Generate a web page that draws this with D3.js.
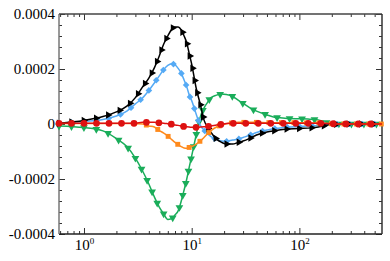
<!DOCTYPE html>
<html>
<head>
<meta charset="utf-8">
<script src="https://cdn.jsdelivr.net/npm/d3@7"></script>
<style>
  body { margin: 0; background: #fff; }
  svg { display: block; }
  text { font-family: "Liberation Serif", "Times New Roman", serif; fill: #000; }
</style>
</head>
<body>
<script>
var width = 390,
    height = 261;

// x positions of the samples (log axis)
var xVals = [0.586, 1, 1.5, 2, 2.5, 3, 3.5, 4, 4.5, 5, 5.5, 6, 6.5, 7, 7.5, 8, 8.5, 9, 9.5, 10,
  11, 12, 13, 14, 15, 17, 19, 21, 24, 27, 30, 35, 40, 50, 60, 70, 80, 100, 120, 150, 200, 300, 400, 585];

// series values, in units of 1e-5
var UNIT = 1e-5;
var black = [0.3, 1.3, 2.7, 4.4, 6.5, 9.6, 13.5, 16.7, 20.4, 24.7, 29.1, 32, 34.4, 35.3, 35.3, 34.2, 32, 29.5, 25.5, 21.8,
  13.1, 7.3, 1.5, -1.1, -2.9, -5.5, -6.7, -7.3, -7.3, -6.7, -6.2, -5.1, -4.0, -2.9, -2.4, -2.0, -1.8, -1.6, -1.5, -1.1, -0.1, 0, 0, 0];
var blue = [0.2, 0.9, 1.6, 2.9, 4.7, 7.3, 9.5, 12.2, 14.9, 17.5, 19.8, 21.3, 21.9, 21.5, 20.2, 18.5, 16, 13.5, 10.5, 8.5,
  3.6, -0.4, -2.2, -3.5, -4.5, -5.6, -6.2, -6.3, -5.8, -5.5, -4.9, -4.0, -3.1, -2.2, -1.6, -1.3, -1.1, -0.9, -0.7, -0.5, -0.1, 0, 0, 0];
var green = [-0.7, -1.3, -2.5, -5.3, -8.2, -12.4, -17.1, -21.8, -26.5, -30.2, -32.7, -34.7, -34.4, -33.1, -31.5, -28, -24, -20, -15.6, -11.6,
  -4, 2.5, 5.8, 7.8, 9.5, 10.5, 10.9, 10.7, 10, 8.7, 7.5, 5.8, 4.7, 3.3, 2.4, 2.2, 2, 1.9, 1.8, 1.5, 0.1, 0, 0, 0];
var orange = [0.2, 0.2, 0.2, 0.2, 0.2, 0.1, 0, -0.7, -1.1, -2.4, -3.3, -4.4, -5.6, -6.7, -7.5, -8.2, -8.7, -8.8, -8.5, -8.2,
  -7.3, -6.2, -4.9, -3.6, -2.5, -1.1, -0.4, 0.1, 0.4, 0.6, 0.6, 0.6, 0.6, 0.5, 0.5, 0.5, 0.5, 0.5, 0.4, 0.4, 0.1, 0, 0, 0];
var red = [0.25, 0.25, 0.25, 0.25, 0.25, 0.25, 0.6, 0.6, 0.6, 0.4, 0.3, 0.1, -0.1, -0.4, -0.5, -0.7, -0.9, -1, -1.1, -1.2,
  -1.2, -1.1, -1.0, -0.9, -0.7, -0.4, -0.1, 0.15, 0.25, 0.25, 0.25, 0.25, 0.25, 0.25, 0.25, 0.25, 0.25, 0.25, 0.25, 0.25, 0.1, 0, 0, 0];

var xMajor = [1, 10, 100];
var xMajorExp = ["0", "1", "2"];
var xMinor = [0.6, 0.7, 0.8, 0.9, 2, 3, 4, 5, 6, 7, 8, 9, 20, 30, 40, 50, 60, 70, 80, 90, 200, 300, 400, 500];
var yMajor = [0.0004, 0.0002, 0, -0.0002, -0.0004];
var yMajorLabels = ["0.0004", "0.0002", "0", "-0.0002", "-0.0004"];
var yMinor = d3.range(-10, 11).filter(function(i){ return i % 5 !== 0; }).map(function(i){ return i * 4e-5; });

var margin = {top: 14, right: 8, bottom: 27, left: 59};
var x0 = margin.left, x1 = width - margin.right,
    y0 = margin.top, y1 = height - margin.bottom;

var svg = d3.select("body").append("svg").attr("width", width).attr("height", height);

var x = d3.scaleLog().domain([0.586, 585]).range([x0, x1]);
var y = d3.scaleLinear().domain([-0.0004, 0.0004]).range([y1, y0]);

svg.append("clipPath").attr("id", "clip")
  .append("rect").attr("x", x0).attr("y", y0).attr("width", x1 - x0).attr("height", y1 - y0);

// ticks (inward, all four sides)
var axisColor = "#333";
function ticks(axis, tx, ty) {
  var g = svg.append("g").attr("transform", "translate(" + tx + "," + ty + ")").call(axis);
  g.select(".domain").remove();
  g.selectAll(".tick line").attr("stroke", axisColor);
  return g;
}
ticks(d3.axisBottom(x).tickValues(xMinor).tickSize(-3).tickFormat(""), 0, y1);
ticks(d3.axisTop(x).tickValues(xMinor).tickSize(-3).tickFormat(""), 0, y0);
ticks(d3.axisTop(x).tickValues(xMajor).tickSize(-6).tickFormat(""), 0, y0);
ticks(d3.axisLeft(y).tickValues(yMinor).tickSize(-3).tickFormat(""), x0, 0);
ticks(d3.axisRight(y).tickValues(yMinor).tickSize(-3).tickFormat(""), x1, 0);
ticks(d3.axisRight(y).tickValues(yMajor).tickSize(-6).tickFormat(""), x1, 0);

var yAx = ticks(d3.axisLeft(y).tickValues(yMajor).tickSize(-6).tickPadding(4)
    .tickFormat(function(d, i){ return yMajorLabels[i]; }), x0, 0);
yAx.selectAll("text").attr("font-size", 15).attr("font-family", "Liberation Serif");

var xAx = ticks(d3.axisBottom(x).tickValues(xMajor).tickSize(-6).tickPadding(5).tickFormat(""), 0, y1);
xAx.selectAll(".tick").append("text")
    .attr("y", 16)
    .attr("text-anchor", "middle")
    .attr("font-size", 15)
    .each(function(d, i){
      var t = d3.select(this);
      t.append("tspan").text("10");
      t.append("tspan").attr("font-size", 9).attr("dy", -6).text(xMajorExp[i]);
    });

// frame
svg.append("line").attr("x1", x0).attr("x2", x1).attr("y1", y0).attr("y2", y0).attr("stroke", "#444").attr("stroke-width", 1.5);
svg.append("line").attr("x1", x0).attr("x2", x1).attr("y1", y1).attr("y2", y1).attr("stroke", "#222").attr("stroke-width", 1.5);
svg.append("line").attr("x1", x1).attr("x2", x1).attr("y1", y0).attr("y2", y1).attr("stroke", "#333").attr("stroke-width", 1.5);
svg.append("line").attr("x1", x0).attr("x2", x0).attr("y1", y0).attr("y2", y1).attr("stroke", "#777").attr("stroke-width", 1.5);

// series
var series = [
  {vals: green, color: "#1aad5a", sym: d3.symbolTriangle, size: 26, rot: 180},
  {vals: blue, color: "#55aaf5", sym: d3.symbolSquare, size: 22, rot: 45},
  {vals: black, color: "#000", sym: d3.symbolTriangle, size: 24, rot: 90},
  {vals: orange, color: "#ff8a1c", sym: d3.symbolSquare, size: 24, rot: 0},
  {vals: red, color: "#dd1111", sym: d3.symbolCircle, size: 36, rot: 0}
];

var line = d3.line()
    .x(function(d){ return x(d[0]); })
    .y(function(d){ return y(d[1] * UNIT); })
    .curve(d3.curveMonotoneX);

var spacing = 12.5;

series.forEach(function(s){
  var pts = xVals.map(function(v, i){ return [v, s.vals[i]]; });
  var path = svg.append("path")
      .datum(pts)
      .attr("clip-path", "url(#clip)")
      .attr("fill", "none")
      .attr("stroke", s.color)
      .attr("stroke-width", 1.5)
      .attr("d", line);

  var node = path.node(), len = node.getTotalLength();
  var marks = d3.range(0, len, spacing).map(function(l){ return node.getPointAtLength(l); });

  svg.append("g").selectAll("path")
    .data(marks)
    .enter().append("path")
      .attr("transform", function(p){ return "translate(" + p.x + "," + p.y + ") rotate(" + s.rot + ")"; })
      .attr("d", d3.symbol().type(s.sym).size(s.size))
      .attr("fill", s.color);
});
</script>
</body>
</html>
